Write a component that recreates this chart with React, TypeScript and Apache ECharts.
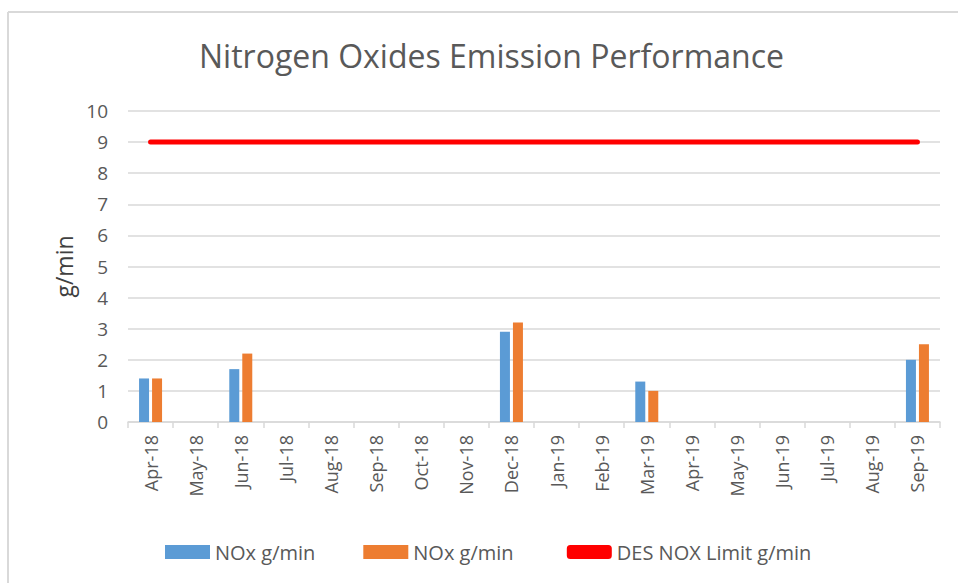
import React, { useEffect, useRef } from "react";
import * as echarts from "echarts";

const categories = ["Apr-18","May-18","Jun-18","Jul-18","Aug-18","Sep-18","Oct-18","Nov-18","Dec-18","Jan-19","Feb-19","Mar-19","Apr-19","May-19","Jun-19","Jul-19","Aug-19","Sep-19"];
const noxA: (number | null)[] = [1.4,null,1.7,null,null,null,null,null,2.9,null,null,1.3,null,null,null,null,null,2.0];
const noxB: (number | null)[] = [1.4,null,2.2,null,null,null,null,null,3.2,null,null,1.0,null,null,null,null,null,2.5];
const limit: number[] = [9,9,9,9,9,9,9,9,9,9,9,9,9,9,9,9,9,9];
const titleText = "Nitrogen Oxides Emission Performance";
const yName = "g/min";

const FONT = "'Open Sans', 'Noto Sans', sans-serif";
const TXT = "#595959";

export default function App() {
  const ref = useRef<HTMLDivElement>(null);
  useEffect(() => {
    if (!ref.current) return;
    const chart = echarts.init(ref.current, null, { renderer: "svg" });
    chart.setOption({
      animation: false,
      backgroundColor: "#ffffff",
      textStyle: { fontFamily: FONT },
      title: {
        text: titleText,
        left: 194,
        top: 34,
        textStyle: { fontFamily: FONT, fontSize: 32, fontWeight: "normal", color: TXT },
      },
      graphic: [
        { type: "line", shape: { x1: 8, y1: 12, x2: 958, y2: 12 }, style: { stroke: "#d9d9d9", lineWidth: 2 } },
        { type: "line", shape: { x1: 8, y1: 12, x2: 8, y2: 583 }, style: { stroke: "#d9d9d9", lineWidth: 2 } },
      ],
      legend: {
        top: 537,
        left: 160,
        itemWidth: 45,
        itemHeight: 14,
        itemGap: 48,
        textStyle: { fontFamily: FONT, fontSize: 20, color: TXT },
        data: [
          { name: "NOx g/min", icon: "rect" },
          { name: "NOx g/min ", icon: "rect" },
          { name: "DES NOX Limit g/min", icon: "roundRect", itemStyle: { color: "#ff0000" } },
        ],
      },
      grid: { left: 128, right: 18, top: 111, bottom: 161 },
      xAxis: {
        type: "category",
        data: categories,
        boundaryGap: true,
        axisLine: { show: true, lineStyle: { color: "#d9d9d9", width: 1.5 } },
        axisTick: { show: true, alignWithLabel: false, length: 6, lineStyle: { color: "#d9d9d9", width: 1.5 } },
        axisLabel: { rotate: 90, interval: 0, margin: 13, fontFamily: FONT, fontSize: 18, color: TXT },
      },
      yAxis: {
        type: "value",
        min: 0,
        max: 10,
        interval: 1,
        name: yName,
        nameLocation: "middle",
        nameGap: 52,
        nameTextStyle: { fontFamily: FONT, fontSize: 23, fontWeight: "normal", color: "#404040" },
        axisLine: { show: false },
        axisTick: { show: false },
        axisLabel: { margin: 20, fontFamily: FONT, fontSize: 19, color: TXT },
        splitLine: { lineStyle: { color: "#d9d9d9", width: 1.5 } },
      },
      series: [
        { name: "NOx g/min", type: "bar", data: noxA, barWidth: 10, barGap: "30%", itemStyle: { color: "#5b9bd5" } },
        { name: "NOx g/min ", type: "bar", data: noxB, barWidth: 10, barGap: "30%", itemStyle: { color: "#ed7d31" } },
        {
          name: "DES NOX Limit g/min",
          type: "line",
          data: limit,
          symbol: "none",
          lineStyle: { color: "#ff0000", width: 5, cap: "round" },
          itemStyle: { color: "#ff0000" },
        },
      ],
    });
    return () => chart.dispose();
  }, []);
  return <div ref={ref} style={{ position: "fixed", left: 0, top: 0, width: 958, height: 583 }} />;
}
